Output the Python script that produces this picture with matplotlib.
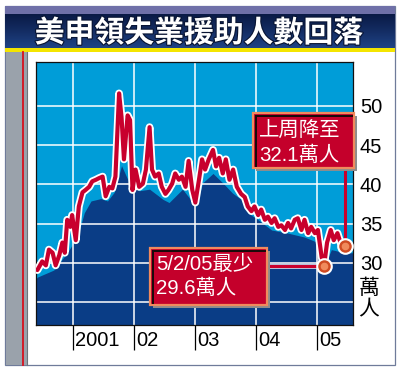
import matplotlib
matplotlib.use('Agg')
import matplotlib.pyplot as plt
import matplotlib.patheffects as pe
import matplotlib.transforms as mtransforms
from matplotlib.patches import Rectangle
import numpy as np

plt.rcParams['font.family'] = ['Liberation Sans', 'Noto Sans CJK TC', 'DejaVu Sans']

# ---------------- data ----------------
title = '美申領失業援助人數回落'
unit_label = ['萬', '人']
year_ticks = [2001, 2002, 2003, 2004, 2005]
year_labels = ['2001', '02', '03', '04', '05']
y_ticks = [30, 35, 40, 45, 50]
grid_y = [25, 30, 35, 40, 45, 50]

claims_x = [2000.42, 2000.50, 2000.56, 2000.61, 2000.67, 2000.72, 2000.78, 2000.83, 2000.87, 2000.91,
            2000.96, 2000.99, 2001.05, 2001.10, 2001.16, 2001.21, 2001.27, 2001.32, 2001.38, 2001.43,
            2001.49, 2001.54, 2001.60, 2001.65, 2001.70, 2001.76, 2001.80, 2001.84, 2001.90, 2001.94,
            2001.98, 2002.03, 2002.09, 2002.15, 2002.20, 2002.26, 2002.30, 2002.35, 2002.41, 2002.46,
            2002.52, 2002.57, 2002.63, 2002.68, 2002.74, 2002.79, 2002.85, 2002.90, 2002.96, 2003.01,
            2003.07, 2003.12, 2003.17, 2003.23, 2003.30, 2003.35, 2003.40, 2003.46, 2003.51, 2003.57,
            2003.63, 2003.69, 2003.76, 2003.82, 2003.87, 2003.93, 2003.98, 2004.04, 2004.09, 2004.15,
            2004.20, 2004.26, 2004.31, 2004.37, 2004.42, 2004.48, 2004.53, 2004.58, 2004.64, 2004.69,
            2004.75, 2004.80, 2004.86, 2004.91, 2004.97, 2005.02, 2005.08, 2005.12, 2005.17, 2005.23,
            2005.28, 2005.34, 2005.39, 2005.46]
claims_y = [29.1, 30.2, 29.7, 31.7, 31.3, 29.7, 31.0, 32.6, 31.3, 35.5,
            34.6, 36.1, 32.9, 37.2, 39.0, 39.3, 39.7, 40.4, 40.6, 40.8,
            41.0, 38.5, 39.7, 39.5, 41.0, 51.6, 48.6, 43.2, 48.8, 48.2,
            39.3, 41.9, 39.7, 40.1, 41.9, 47.3, 41.9, 41.0, 41.4, 39.7,
            38.8, 39.3, 40.1, 41.4, 40.6, 41.0, 39.7, 43.0, 39.3, 37.7,
            40.6, 43.2, 41.9, 43.2, 44.4, 42.3, 43.4, 41.4, 43.2, 40.6,
            41.9, 39.7, 38.8, 38.4, 37.2, 36.6, 37.2, 36.1, 36.8, 35.5,
            35.9, 35.1, 35.7, 34.6, 34.8, 34.2, 35.1, 34.4, 35.5, 35.7,
            34.2, 35.5, 33.8, 34.6, 33.8, 34.2, 30.8, 29.6, 32.6, 34.2,
            32.9, 33.8, 32.6, 32.1]

area_x = [2000.40, 2000.42, 2000.69, 2000.91, 2001.08, 2001.19, 2001.30, 2001.46, 2001.57, 2001.68,
          2001.80, 2001.95, 2002.09, 2002.26, 2002.48, 2002.58, 2002.80, 2003.02, 2003.13, 2003.30,
          2003.46, 2003.62, 2003.76, 2003.87, 2004.04, 2004.26, 2004.53, 2004.80, 2005.02, 2005.12,
          2005.24, 2005.46, 2005.60]
area_y = [28.0, 28.2, 29.1, 31.3, 33.4, 36.4, 37.9, 38.2, 37.9, 39.0,
          42.4, 39.8, 39.2, 39.4, 38.1, 37.7, 39.4, 37.2, 40.2, 41.4,
          40.2, 38.9, 38.1, 36.4, 35.5, 34.2, 33.8, 33.3, 32.6, 29.5,
          31.7, 31.3, 31.3]

low_point = (2005.12, 29.6)
last_point = (2005.46, 32.1)
note_last = ['上周降至', '32.1萬人']
note_low = ['5/2/05最少', '29.6萬人']

# ---------------- colours ----------------
LIGHT_BLUE = '#009dd8'
NAVY = '#0a3d86'
RED = '#c8002d'
W, H = 400, 371

fig = plt.figure(figsize=(W / 100, H / 100), dpi=100)

# background / decoration axes in pixel coordinates
bg = fig.add_axes([0, 0, 1, 1], zorder=0)
bg.set_xlim(0, W)
bg.set_ylim(H, 0)
bg.axis('off')

bg.add_patch(Rectangle((5, 6), 390, 359, facecolor='white', edgecolor='#6f7b9a', lw=0.9))
bg.add_patch(Rectangle((5, 6), 390, 8.5, facecolor='#6f70a8', edgecolor='none'))
grad = np.linspace(0, 1, 50).reshape(-1, 1)
from matplotlib.colors import LinearSegmentedColormap
cmap = LinearSegmentedColormap.from_list('ban', ['#0a1a46', '#142d63', '#1f4385'])
bg.imshow(grad, extent=(5, 395, 48, 14.5), cmap=cmap, aspect='auto', zorder=1)
bg.add_patch(Rectangle((5, 48), 390, 3.8, facecolor='#f4e500', edgecolor='none', zorder=2))
bg.add_patch(Rectangle((5.5, 51.8), 21.5, 313, facecolor='#9aa2ab', edgecolor='none', zorder=2))
bg.plot([26.8, 26.8], [51.8, 365], color='#6d747c', lw=0.8, zorder=3)
bg.plot([22.6, 22.6], [51.8, 365], color='#d8101e', lw=1.3, zorder=3)
bg.text(199, 33, title, color='white', fontsize=21.5, fontweight='bold',
        family=['Noto Sans CJK TC'], ha='center', va='center', zorder=4,
        path_effects=[pe.Stroke(linewidth=1.6, foreground='#081433'), pe.Normal()])
for i, ch in enumerate(unit_label):
    bg.text(369, 288 + i * 21.5, ch, fontsize=15, family=['Noto Sans CJK TC'],
            ha='center', va='center', color='black')

# ---------------- main plot ----------------
left, right, top, bottom = 36, 353, 62, 325
ax = fig.add_axes([left / W, 1 - bottom / H, (right - left) / W, (bottom - top) / H], zorder=1)
ax.set_facecolor(LIGHT_BLUE)
ax.set_xlim(2000.398, 2005.595)
ax.set_ylim(22.1, 55.6)

ax.fill_between(area_x, area_y, 22.1, color=NAVY, lw=0, zorder=1)
for g in grid_y:
    ax.axhline(g, color='white', lw=1.1, zorder=2)
for yr in year_ticks:
    ax.axvline(yr, color='white', lw=1.1, zorder=2)

ax.plot(claims_x, claims_y, color=RED, lw=3.0, solid_joinstyle='round', solid_capstyle='round',
        zorder=4, path_effects=[pe.Stroke(linewidth=5.6, foreground='white'), pe.Normal()])

# connectors
ax.plot([last_point[0], last_point[0]], [last_point[1], 42.2], color=RED, lw=2.2, zorder=3,
        clip_on=False)
ax.plot([2004.19, low_point[0]], [low_point[1], low_point[1]], color=RED, lw=2.2, zorder=3,
        path_effects=[pe.Stroke(linewidth=3.4, foreground='#d8d8e8'), pe.Normal()])

for p in (low_point, last_point):
    ax.plot([p[0]], [p[1]], 'o', ms=10.5, mfc='#cf4a22', mec='white', mew=1.5, zorder=6, clip_on=False)
    ax.plot([p[0]], [p[1]], 'o', ms=5.5, mfc='#f08a5c', mec='none', zorder=7, clip_on=False)

for s in ax.spines.values():
    s.set_color('#111111')
    s.set_linewidth(0.9)

ax.yaxis.tick_right()
ax.set_yticks(y_ticks)
ax.set_yticklabels([str(v) for v in y_ticks], fontsize=14.5)
ax.tick_params(axis='y', length=0, pad=5)
ax.set_xticks(year_ticks)
ax.set_xticklabels([])
ax.tick_params(axis='x', length=18, width=0.9, color='black', direction='out')
lab_tr = mtransforms.offset_copy(ax.get_xaxis_transform(), fig=fig, x=2.5, y=0, units='dots')
for yr, lab in zip(year_ticks, year_labels):
    ax.text(yr, -0.06, lab, transform=lab_tr, fontsize=14.5, ha='left', va='center', color='black')

# ---------------- callouts (pixel overlay) ----------------
ov = fig.add_axes([0, 0, 1, 1], zorder=3)
ov.set_xlim(0, W)
ov.set_ylim(H, 0)
ov.axis('off')


def callout(x0, y0, w, h, lines, tx, ty, dy):
    ov.add_patch(Rectangle((x0 + 2.5, y0 + 2.5), w, h, facecolor='#8c8c8c', edgecolor='none'))
    ov.add_patch(Rectangle((x0, y0), w, h, facecolor='#c4002b', edgecolor='#f08a5d', lw=1.6))
    ov.add_patch(Rectangle((x0 + 1.5, y0 + 1.5), w - 3, 2.2, facecolor='#1a0a0a', edgecolor='none'))
    ov.add_patch(Rectangle((x0 + 1.5, y0 + 1.5), 2.2, h - 3, facecolor='#1a0a0a', edgecolor='none'))
    for i, t in enumerate(lines):
        ov.text(tx, ty + i * dy, t, color='white', fontsize=14.7, ha='left', va='center')


callout(253, 113, 101, 55, note_last, 259, 131, 24)
callout(150, 248, 117, 57, note_low, 156, 265, 23.5)

fig.savefig('out.png', dpi=100)
